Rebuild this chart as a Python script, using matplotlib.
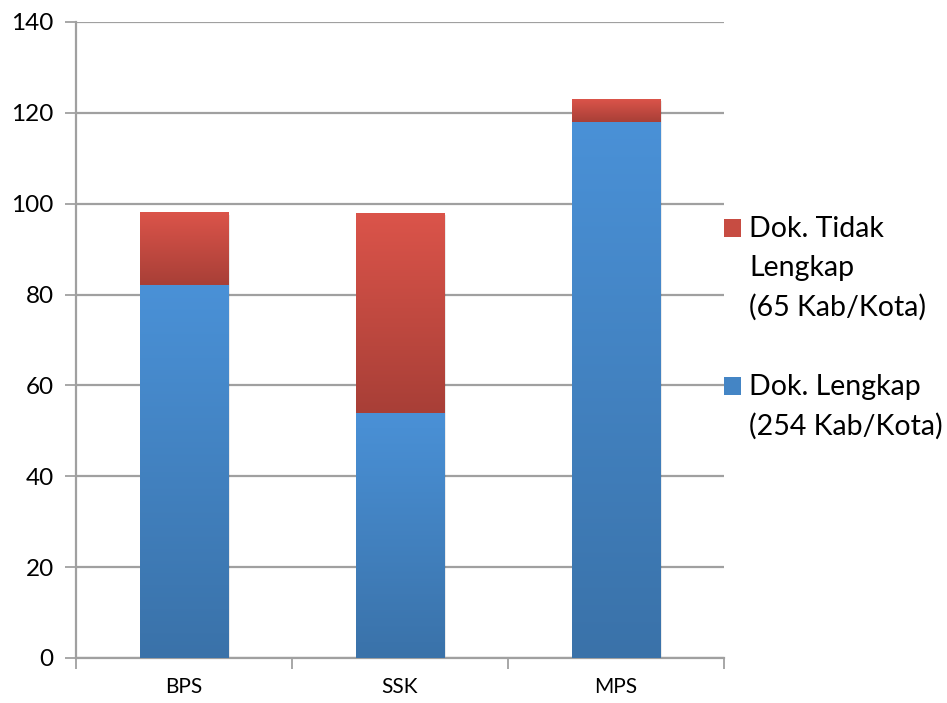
import numpy as np
import matplotlib
matplotlib.use("Agg")
import matplotlib.pyplot as plt
from matplotlib.colors import LinearSegmentedColormap
from matplotlib.patches import Rectangle

plt.rcParams["font.family"] = ["Lato", "DejaVu Sans"]

categories = ["BPS", "SSK", "MPS"]
lengkap = [82, 54, 118]
tidak_lengkap = [16, 44, 5]
labels = ["Dok. Tidak\nLengkap\n(65 Kab/Kota)", "Dok. Lengkap\n(254 Kab/Kota)"]

blue_cm = LinearSegmentedColormap.from_list("b", ["#3A72A9", "#4A91D7"])
red_cm = LinearSegmentedColormap.from_list("r", ["#A83F37", "#DB544A"])

fig = plt.figure(figsize=(9.47, 7.03), dpi=100)
ax = fig.add_axes([76/947, 45/703, 648/947, 636/703])

x = np.arange(len(categories))
w = 0.41
grad = np.linspace(0, 1, 256).reshape(-1, 1)

def grad_bar(xc, y0, y1, cmap):
    # soft shadow
    ax.add_patch(Rectangle((xc - w/2 + 0.01, y0 - 0.4), w, y1 - y0, facecolor="#000000",
                           alpha=0.08, edgecolor="none", zorder=2))
    ax.imshow(grad, cmap=cmap, origin="lower", aspect="auto",
              extent=[xc - w/2, xc + w/2, y0, y1], zorder=3, interpolation="bilinear")

for i in range(len(categories)):
    grad_bar(x[i], 0, lengkap[i], blue_cm)
    grad_bar(x[i], lengkap[i], lengkap[i] + tidak_lengkap[i], red_cm)

ax.set_xlim(-0.5, 2.5)
ax.set_ylim(0, 140)
ax.set_yticks(np.arange(0, 141, 20))
ax.yaxis.grid(True, color="#A0A0A0", linewidth=1.6)
ax.set_axisbelow(True)
ax.set_xticks([-0.5, 0.5, 1.5, 2.5])
ax.set_xticklabels([])
ax.set_xticks(x, minor=True)
ax.set_xticklabels(categories, minor=True, fontsize=15)
ax.tick_params(axis="x", which="minor", length=0, pad=14)
ax.tick_params(axis="x", which="major", length=8, color="#A0A0A0", width=1.3)
ax.tick_params(axis="y", length=8, color="#A0A0A0", width=1.3, labelsize=17.5, pad=8)
for s in ["top", "right"]:
    ax.spines[s].set_visible(False)
for s in ["left", "bottom"]:
    ax.spines[s].set_color("#A0A0A0")
    ax.spines[s].set_linewidth(1.6)

# legend drawn by hand so the marker sits on the first text line
leg_cmaps = [red_cm, blue_cm]
leg_y = [228, 386]
for lab, cm, yp in zip(labels, leg_cmaps, leg_y):
    yf = 1 - yp / 703
    fig.add_artist(Rectangle((724/947, yf - 9/703), 17/947, 18/703,
                             facecolor=cm(0.6), edgecolor="none", transform=fig.transFigure))
    fig.text(749/947, yf + 12/703, lab, fontsize=20.5, va="top", ha="left",
             linespacing=1.6)

fig.savefig("out.png", dpi=100)
